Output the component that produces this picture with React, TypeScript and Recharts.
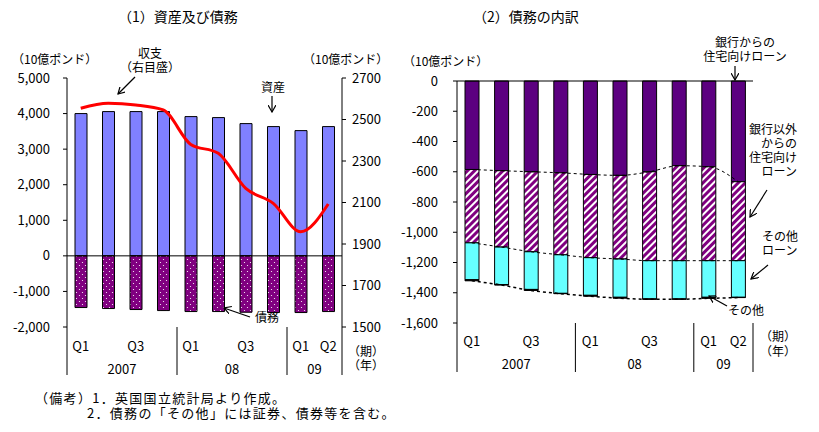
import React from "react";
import { ComposedChart, Bar, Line, XAxis, YAxis, ReferenceLine } from "recharts";

const periods = ["2007Q1", "2007Q2", "2007Q3", "2007Q4", "2008Q1", "2008Q2", "2008Q3", "2008Q4", "2009Q1", "2009Q2"];
const quarterLabels = ["Q1", "", "Q3", "", "Q1", "", "Q3", "", "Q1", "Q2"];
const yearLabels = ["2007", "2007", "2007", "2007", "08", "08", "08", "08", "09", "09"];

// (1) 資産及び債務
const assets = [4000, 4056, 4056, 4056, 3915, 3887, 3718, 3634, 3521, 3634];
const liabilities = [-1453, -1481, -1509, -1538, -1566, -1566, -1585, -1594, -1594, -1566];
const balance = [2554, 2578, 2570, 2546, 2380, 2337, 2168, 2096, 1959, 2093];
const leftTicks = [-2000, -1000, 0, 1000, 2000, 3000, 4000, 5000];
const rightTicks = [1500, 1700, 1900, 2100, 2300, 2500, 2700];

// (2) 債務の内訳
const bankLoans = [-585, -593, -600, -607, -618, -624, -600, -560, -567, -666];
const nonBankLoans = [-485, -505, -529, -542, -550, -553, -588, -628, -621, -522];
const otherLoans = [-244, -248, -249, -255, -249, -253, -253, -253, -242, -242];
const others = [-7, -3, -7, -2, -6, -6, -2, -2, -7, -2];
const debtTicks = [-1600, -1400, -1200, -1000, -800, -600, -400, -200, 0];

const FONT = "'Noto Sans CJK JP', sans-serif";

const leftData = periods.map((p, i) => ({
  period: p,
  assets: assets[i],
  liabilities: liabilities[i],
  balance: balance[i],
}));

const rightData = periods.map((p, i) => ({
  period: p,
  bank: bankLoans[i],
  nonBank: nonBankLoans[i],
  otherLoans: otherLoans[i],
  others: others[i],
  edge1: bankLoans[i],
  edge2: bankLoans[i] + nonBankLoans[i],
  edge3: bankLoans[i] + nonBankLoans[i] + otherLoans[i] + others[i],
}));

const fmt = (v: number) => v.toLocaleString("en-US");

function PeriodTick(props: any) {
  const { x, y, index, band, qy, yy, sepH } = props;
  const i = index;
  const year = yearLabels[i];
  const first = i === 0 || yearLabels[i - 1] !== year;
  const last = i === yearLabels.length - 1 || yearLabels[i + 1] !== year;
  const count = yearLabels.filter((v) => v === year).length;
  const txt = { fontSize: 13, fontFamily: FONT, fill: "#000" };
  return (
    <g>
      {quarterLabels[i] && (
        <text x={x} y={y + qy} textAnchor="middle" dominantBaseline="central" {...txt}>
          {quarterLabels[i]}
        </text>
      )}
      {first && (
        <text x={x + ((count - 1) * band) / 2} y={y + yy} textAnchor="middle" dominantBaseline="central" {...txt}>
          {year}
        </text>
      )}
      {i === 0 && <line x1={x - band / 2} x2={x - band / 2} y1={y} y2={y + sepH} stroke="#000" />}
      {last && <line x1={x + band / 2} x2={x + band / 2} y1={y} y2={y + sepH} stroke="#000" />}
    </g>
  );
}

const tickStyle = { fontSize: 13, fill: "#000", fontFamily: FONT };

function Arrow({ x1, y1, x2, y2 }: { x1: number; y1: number; x2: number; y2: number }) {
  return <line x1={x1} y1={y1} x2={x2} y2={y2} stroke="#000" strokeWidth={1.2} markerEnd="url(#arrowHead)" />;
}

export default function App() {
  const t = { fontFamily: FONT, fontSize: 12, fill: "#000" };
  return (
    <div style={{ position: "absolute", left: 0, top: 0, width: 819, height: 432, background: "#fff" }}>
      <svg width={0} height={0} style={{ position: "absolute" }}>
        <defs>
          <pattern id="dots" width={6} height={6} patternUnits="userSpaceOnUse">
            <rect width={6} height={6} fill="#800080" />
            <circle cx={1.5} cy={1.5} r={0.6} fill="#fff" />
            <circle cx={4.5} cy={4.5} r={0.6} fill="#fff" />
          </pattern>
          <pattern id="hatch" width={5} height={5} patternUnits="userSpaceOnUse" patternTransform="rotate(45)">
            <rect width={5} height={5} fill="#800080" />
            <rect width={2} height={5} fill="#fff" />
          </pattern>
          <marker id="arrowHead" markerWidth={8} markerHeight={8} refX={7} refY={4} orient="auto" markerUnits="userSpaceOnUse">
            <path d="M0,0 L7,4 L0,8" fill="none" stroke="#000" strokeWidth={1.2} />
          </marker>
        </defs>
      </svg>

      <div style={{ position: "absolute", left: 0, top: 0 }}>
        <ComposedChart width={400} height={432} data={leftData} stackOffset="sign" margin={{ top: 78, right: 0, left: 7, bottom: 55 }}>
          <XAxis
            dataKey="period"
            height={50}
            axisLine={false}
            tickLine={false}
            tickSize={0}
            tickMargin={0}
            interval={0}
            tick={(p: any) => <PeriodTick {...p} band={27.5} qy={18} yy={41} sepH={48} />}
          />
          <YAxis
            yAxisId="left"
            width={60}
            domain={[-2000, 5000]}
            ticks={leftTicks}
            tickFormatter={fmt}
            tickSize={4}
            tickMargin={13}
            tick={tickStyle}
            stroke="#000"
            interval={0}
          />
          <YAxis
            yAxisId="right"
            orientation="right"
            width={58}
            domain={[1500, 2700]}
            ticks={rightTicks}
            tickSize={4}
            tickMargin={6}
            tick={tickStyle}
            stroke="#000"
            interval={0}
          />
          <Bar yAxisId="left" dataKey="assets" stackId="s" fill="#8080ff" stroke="#000" strokeWidth={1} barSize={12} isAnimationActive={false} />
          <Bar yAxisId="left" dataKey="liabilities" stackId="s" fill="url(#dots)" stroke="#000" strokeWidth={1} barSize={12} isAnimationActive={false} />
          <ReferenceLine yAxisId="left" y={0} stroke="#000" strokeWidth={1} />
          <Line yAxisId="right" dataKey="balance" type="monotone" stroke="#ff0000" strokeWidth={3} dot={false} isAnimationActive={false} />
        </ComposedChart>
      </div>

      <div style={{ position: "absolute", left: 400, top: 0 }}>
        <ComposedChart width={419} height={432} data={rightData} stackOffset="sign" margin={{ top: 81, right: 66, left: 7, bottom: 59 }}>
          <XAxis
            dataKey="period"
            height={50}
            axisLine={false}
            tickLine={false}
            tickSize={0}
            tickMargin={0}
            interval={0}
            tick={(p: any) => <PeriodTick {...p} band={29.6} qy={17} yy={40} sepH={49} />}
          />
          <YAxis
            width={50}
            domain={[-1600, 0]}
            ticks={debtTicks}
            tickFormatter={fmt}
            tickSize={4}
            tickMargin={15}
            tick={tickStyle}
            stroke="#000"
            interval={0}
          />
          <Line dataKey="edge1" type="monotone" stroke="#000" strokeWidth={1} strokeDasharray="3 3" dot={false} isAnimationActive={false} />
          <Line dataKey="edge2" type="monotone" stroke="#000" strokeWidth={1} strokeDasharray="3 3" dot={false} isAnimationActive={false} />
          <Line dataKey="edge3" type="monotone" stroke="#000" strokeWidth={1.5} strokeDasharray="3 3" dot={false} isAnimationActive={false} />
          <Bar dataKey="bank" stackId="d" fill="#5c0080" stroke="#000" strokeWidth={1} barSize={14} isAnimationActive={false} />
          <Bar dataKey="nonBank" stackId="d" fill="url(#hatch)" stroke="#000" strokeWidth={1} barSize={14} isAnimationActive={false} />
          <Bar dataKey="otherLoans" stackId="d" fill="#66ffff" stroke="#000" strokeWidth={1} barSize={14} isAnimationActive={false} />
          <Bar dataKey="others" stackId="d" fill="#000" stroke="#000" strokeWidth={1} barSize={14} isAnimationActive={false} />
          <ReferenceLine y={0} stroke="#000" strokeWidth={1} />
        </ComposedChart>
      </div>

      <svg width={819} height={432} style={{ position: "absolute", left: 0, top: 0, pointerEvents: "none" }}>
        <text x={118} y={22} style={{ fontFamily: FONT, fontSize: 14 }} fill="#000">（1）資産及び債務</text>
        <text x={473} y={22} style={{ fontFamily: FONT, fontSize: 14 }} fill="#000">（2）債務の内訳</text>

        <text x={12} y={64} {...t}>（10億ポンド）</text>
        <text x={303} y={64} {...t}>（10億ポンド）</text>
        <text x={403} y={66} {...t}>（10億ポンド）</text>

        <text x={150} y={58} {...t} textAnchor="middle">収支</text>
        <text x={150} y={72} {...t} textAnchor="middle">（右目盛）</text>
        <Arrow x1={135} y1={77} x2={118} y2={94} />
        <text x={273} y={92} {...t} textAnchor="middle">資産</text>
        <Arrow x1={272} y1={96} x2={272} y2={112} />
        <text x={267} y={322} {...t} textAnchor="middle">債務</text>
        <Arrow x1={250} y1={317} x2={224} y2={308} />
        <text x={348} y={356} {...t}>（期）</text>
        <text x={348} y={370} {...t}>（年）</text>

        <text x={745} y={47} {...t} textAnchor="middle">銀行からの</text>
        <text x={745} y={61} {...t} textAnchor="middle">住宅向けローン</text>
        <Arrow x1={735} y1={66} x2={735} y2={80} />
        <text x={797} y={134} {...t} textAnchor="end">銀行以外</text>
        <text x={797} y={148} {...t} textAnchor="end">からの</text>
        <text x={797} y={162} {...t} textAnchor="end">住宅向け</text>
        <text x={797} y={176} {...t} textAnchor="end">ローン</text>
        <Arrow x1={767} y1={190} x2={750} y2={217} />
        <text x={762} y={241} {...t}>その他</text>
        <text x={762} y={255} {...t}>ローン</text>
        <Arrow x1={768} y1={265} x2={751} y2={279} />
        <text x={728} y={315} {...t}>その他</text>
        <Arrow x1={727} y1={306} x2={709} y2={296} />
        <text x={760} y={341} {...t}>（期）</text>
        <text x={760} y={356} {...t}>（年）</text>

        <text x={35} y={403} {...t} fontSize={13} letterSpacing={1.3}>（備考）1．英国国立統計局より作成。</text>
        <text x={87} y={418} {...t} fontSize={13} letterSpacing={1.3}>2．債務の「その他」には証券、債券等を含む。</text>
      </svg>
    </div>
  );
}
